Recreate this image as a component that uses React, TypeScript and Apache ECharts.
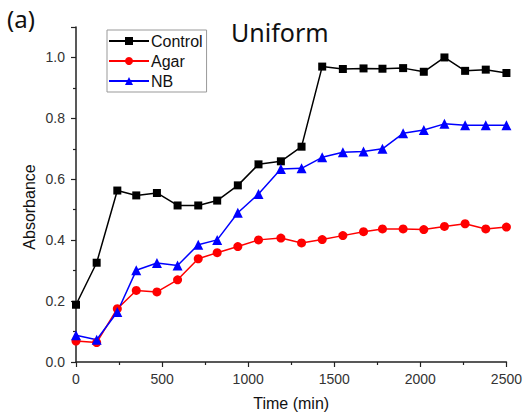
import React, { useEffect, useRef } from "react";
import * as echarts from "echarts";

const times = [0, 120, 240, 350, 470, 590, 710, 820, 940, 1060, 1190, 1310, 1430, 1550, 1670, 1780, 1900, 2020, 2140, 2260, 2380, 2500];
const control = [0.188, 0.326, 0.563, 0.547, 0.555, 0.514, 0.514, 0.530, 0.580, 0.649, 0.659, 0.707, 0.970, 0.962, 0.964, 0.963, 0.965, 0.953, 1.0, 0.956, 0.960, 0.949];
const agar = [0.069, 0.064, 0.175, 0.235, 0.230, 0.270, 0.339, 0.359, 0.379, 0.401, 0.407, 0.391, 0.402, 0.415, 0.428, 0.437, 0.437, 0.435, 0.445, 0.454, 0.437, 0.443];
const nb = [0.0875, 0.073, 0.164, 0.301, 0.325, 0.317, 0.385, 0.401, 0.490, 0.552, 0.634, 0.636, 0.672, 0.689, 0.691, 0.700, 0.751, 0.762, 0.782, 0.777, 0.777, 0.777];

const pair = (ys: number[]) => ys.map((y, i) => [times[i], y]);

export default function App() {
  const ref = useRef<HTMLDivElement>(null);
  useEffect(() => {
    const chart = echarts.init(ref.current!, null, { renderer: "svg" });
    const font = "'Liberation Sans', Arial, sans-serif";
    const axisCommon = {
      axisLine: { show: true, onZero: false, lineStyle: { color: "#222", width: 1.5 } },
      axisTick: { show: true, inside: false, length: 5, lineStyle: { color: "#222", width: 1.2 } },
      minorTick: { show: true, splitNumber: 2, length: 3, lineStyle: { color: "#222", width: 1.2 } },
      splitLine: { show: false },
      axisLabel: { color: "#333", fontSize: 14, fontFamily: font },
    };
    chart.setOption({
      animation: false,
      textStyle: { fontFamily: font },
      grid: { left: 76, right: 16, top: 27, bottom: 56 },
      xAxis: {
        type: "value",
        min: 0,
        max: 2500,
        interval: 500,
        ...axisCommon,
        axisLabel: { ...axisCommon.axisLabel, margin: 10, formatter: (v: number) => String(v) },
        name: "Time (min)",
        nameLocation: "middle",
        nameGap: 33,
        nameTextStyle: { color: "#111", fontSize: 16, fontFamily: font },
      },
      yAxis: {
        type: "value",
        min: 0,
        max: 1.1,
        interval: 0.2,
        ...axisCommon,
        axisLabel: {
          ...axisCommon.axisLabel,
          margin: 11,
          showMaxLabel: false,
          formatter: (v: number) => v.toFixed(1),
        },
      },
      legend: {
        orient: "vertical",
        left: 107,
        top: 30,
        padding: [3, 4, 3, 1],
        itemGap: 4,
        itemWidth: 40,
        itemHeight: 10,
        borderColor: "#999",
        borderWidth: 1,
        textStyle: { fontSize: 16, color: "#111", fontFamily: font, padding: [0, 0, 0, -3] },
        data: ["Control", "Agar", "NB"],
      },
      graphic: [
        { type: "text", left: 7, top: 6, style: { text: "(a)", fontSize: 24, fill: "#111", fontFamily: "'Noto Sans', sans-serif" } },
        { type: "text", left: 231, top: 19, style: { text: "Uniform", fontSize: 25, fill: "#111", fontFamily: "'Noto Sans', sans-serif" } },
        {
          type: "text",
          x: 29,
          y: 207,
          rotation: Math.PI / 2,
          style: { text: "Absorbance", fontSize: 16, fill: "#111", fontFamily: font, align: "center", verticalAlign: "middle" },
        },
      ],
      series: [
        {
          name: "Control",
          type: "line",
          data: pair(control),
          symbol: "rect",
          symbolSize: 8,
          itemStyle: { color: "#000" },
          lineStyle: { color: "#000", width: 1.5 },
        },
        {
          name: "Agar",
          type: "line",
          data: pair(agar),
          symbol: "circle",
          symbolSize: 9,
          itemStyle: { color: "#ff0000" },
          lineStyle: { color: "#ff0000", width: 1.5 },
        },
        {
          name: "NB",
          type: "line",
          data: pair(nb),
          symbol: "triangle",
          symbolSize: 10,
          itemStyle: { color: "#0000ff" },
          lineStyle: { color: "#0000ff", width: 1.5 },
        },
      ],
    });
    return () => chart.dispose();
  }, []);
  return <div ref={ref} style={{ width: 525, height: 418, position: "absolute", left: 0, top: 0 }} />;
}
